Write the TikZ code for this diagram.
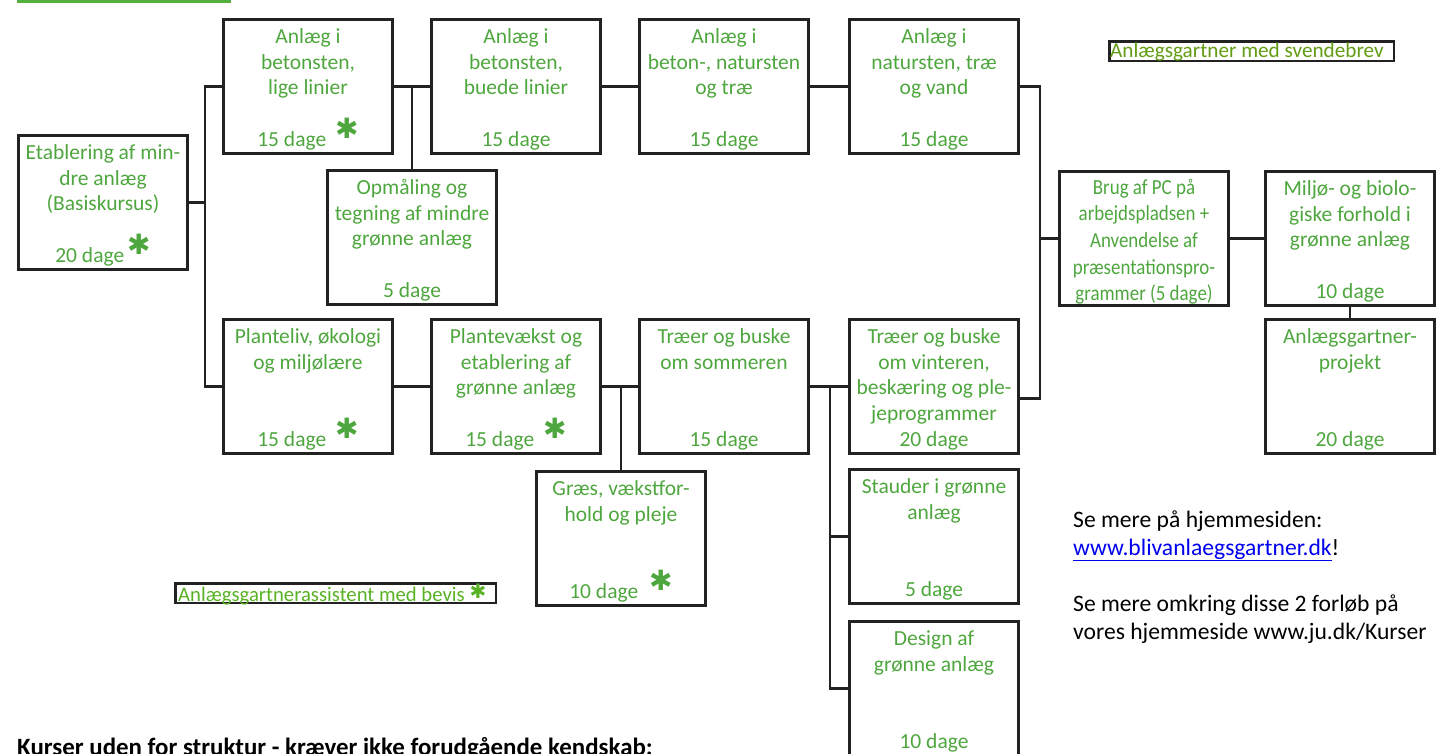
\documentclass[tikz,border=0pt]{standalone}
\usepackage{fontspec}
\setmainfont{Carlito}
\newfontfamily\starfont{DejaVu Sans}
\newfontfamily\condfont{Carlito}[FakeStretch=0.88]
\definecolor{cgreen}{RGB}{78,166,62}
\definecolor{svgreen}{RGB}{98,156,18}
\definecolor{asgreen}{RGB}{88,178,36}
\definecolor{hgreen}{RGB}{84,176,60}
\definecolor{frame}{RGB}{34,34,34}
\definecolor{linkblue}{RGB}{0,0,238}
\newcommand\gstar{\smash{\raisebox{8pt}{\starfont\fontsize{28}{28}\selectfont ✱}}}
\tikzset{
  cbox/.style={draw=frame, line width=2.6pt, minimum width=169.4pt, minimum height=134.4pt,
    anchor=north west, inner sep=0pt},
  ctext/.style={anchor=north, align=center, inner sep=0pt, text=cgreen,
    font=\fontsize{21.5}{25.6}\selectfont, yshift=-7.4pt},
  conn/.style={draw=frame, line width=2.4pt},
  lblbox/.style={draw=frame, line width=2.5pt, anchor=north west, inner sep=0pt},
  plain/.style={anchor=base west, inner sep=0pt, font=\fontsize{23.6}{28}\selectfont},
}
\newcommand\course[4]{%
  \node[cbox] (#1) at (#2,#3) {};
  \node[ctext] (#1t) at (#1.north) {\rule{0pt}{18pt}#4};
}
\begin{document}
\begin{tikzpicture}[x=1pt,y=-1pt]
\useasboundingbox (0,0) rectangle (1437,753);
\clip (0,0) rectangle (1437,753);

% heading fragment (underline)
\fill[hgreen] (17,0) rectangle (231,2.6);

% course boxes
\course{E}{17}{134}{Etablering af min-\\dre anlæg\\(Basiskursus)\\\mbox{}\\20 dage\hspace{3pt}\gstar}
\course{A1}{222}{18}{Anlæg i\\betonsten,\\lige linier\\\mbox{}\\15 dage\hspace{9pt}\gstar}
\course{A2}{430}{18}{Anlæg i\\betonsten,\\buede linier\\\mbox{}\\15 dage}
\course{A3}{638}{18}{Anlæg i\\beton-, natursten\\og træ\\\mbox{}\\15 dage}
\course{A4}{848}{18}{Anlæg i\\natursten, træ\\og vand\\\mbox{}\\15 dage}
\course{Op}{326}{169}{Opmåling og\\tegning af mindre\\grønne anlæg\\\mbox{}\\5 dage}
\course{P1}{222}{318}{Planteliv, økologi\\og miljølære\\\mbox{}\\\mbox{}\\15 dage\hspace{9pt}\gstar}
\course{P2}{430}{318}{Plantevækst og\\etablering af\\grønne anlæg\\\mbox{}\\15 dage\hspace{9pt}\gstar}
\course{P3}{638}{318}{Træer og buske\\om sommeren\\\mbox{}\\\mbox{}\\15 dage}
\course{P4}{848}{318}{Træer og buske\\om vinteren,\\beskæring og ple-\\jeprogrammer\\20 dage}
\course{Gr}{535}{470}{Græs, vækstfor-\\hold og pleje\\\mbox{}\\\mbox{}\\10 dage\hspace{11pt}\gstar}
\course{St}{848}{468}{Stauder i grønne\\anlæg\\\mbox{}\\\mbox{}\\5 dage}
\course{De}{848}{620}{Design af\\grønne anlæg\\\mbox{}\\\mbox{}\\10 dage}
\node[cbox] (PC) at (1058,170) {};
\node[ctext, font=\condfont\fontsize{21.5}{26.6}\selectfont, yshift=1.4pt] (PCt) at (PC.north)
  {\rule{0pt}{18pt}Brug af PC på\\arbejdspladsen +\\Anvendelse af\\præsentationspro-\\grammer (5 dage)};
\course{Mi}{1264}{170}{Miljø- og biolo-\\giske forhold i\\grønne anlæg\\\mbox{}\\10 dage}
\course{Pr}{1264}{318}{Anlægsgartner-\\projekt\\\mbox{}\\\mbox{}\\20 dage}

% connectors
\coordinate (t1) at (205,0);
\coordinate (t2) at (1040,0);
\coordinate (t3) at (830,0);
\coordinate (p4c) at ([yshift=-12pt]P4.east);
\draw[conn] (E.east) -- (E.east -| t1);
\draw[conn] (A1.west) -- (A1.west -| t1) -- (P1.west -| t1) -- (P1.west);
\draw[conn] (A1.east) -- (A2.west);
\draw[conn] (Op.north) -- (Op.north |- A1.east);
\draw[conn] (A2.east) -- (A3.west);
\draw[conn] (A3.east) -- (A4.west);
\draw[conn] (A4.east) -- (A4.east -| t2) -- (p4c -| t2) -- (p4c);
\draw[conn] (t2 |- PC.west) -- (PC.west);
\draw[conn] (PC.east) -- (Mi.west);
\draw[conn] (Mi.south) -- (Pr.north);
\draw[conn] (P1.east) -- (P2.west);
\draw[conn] (P2.east) -- (P3.west);
\draw[conn] (Gr.north) -- (Gr.north |- P2.east);
\draw[conn] (P3.east) -- (P4.west);
\draw[conn] (P3.east -| t3) -- (De.west -| t3) -- (De.west);
\draw[conn] (St.west -| t3) -- (St.west);

% labelled frames
\node[lblbox, minimum width=284.5pt, minimum height=19.5pt] (svbox) at (1108,40) {};
\node[anchor=base west, inner sep=0pt, text=svgreen, font=\fontsize{21.2}{24}\selectfont] (svtext) at (1110,57.5) {Anlægsgartner med svendebrev};
\node[lblbox, minimum width=320.5pt, minimum height=19.5pt] (asbox) at (174,582) {};
\node[anchor=base west, inner sep=0pt, text=asgreen, font=\fontsize{20.7}{24}\selectfont] (astext) at (178,601.5) {Anlægsgartnerassistent med bevis\hspace{5pt}\smash{\raisebox{3.5pt}{\starfont\fontsize{20}{20}\selectfont ✱}}};

% right-hand notes
\node[plain] (se1) at (1073,527) {Se mere på hjemmesiden:};
\node[plain] (link) at (1073,555) {\textcolor{linkblue}{\underline{www.blivanlaegsgartner.dk}}!};
\node[plain] (se2) at (1073,611) {Se mere omkring disse 2 forløb på};
\node[plain] (se3) at (1073,639) {vores hjemmeside www.ju.dk/Kurser};

% bottom heading (cut off)
\node[anchor=base west, inner sep=0pt, font=\bfseries\fontsize{24.9}{28}\selectfont] (kurser) at (17,755) {Kurser uden for struktur - kræver ikke forudgående kendskab:};
\end{tikzpicture}
\end{document}
